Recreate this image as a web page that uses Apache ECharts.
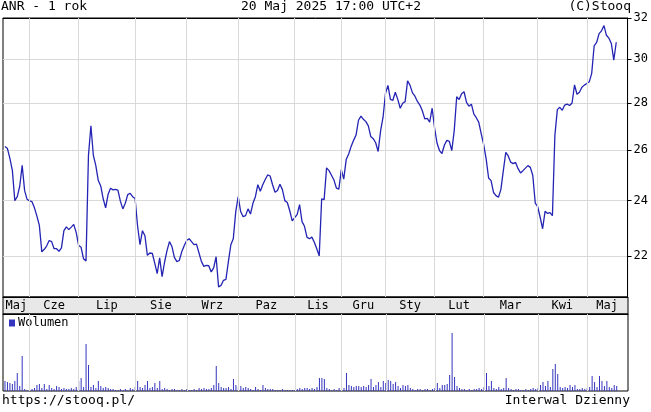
<!DOCTYPE html>
<html>
<head>
<meta charset="utf-8">
<script src="https://cdn.jsdelivr.net/npm/echarts@6/dist/echarts.min.js"></script>
<style>
html, body { margin: 0; padding: 0; background: #fff; }
#main { width: 651px; height: 412px; }
</style>
</head>
<body>
<div id="main"></div>
<script>
// ANR - 1 rok, kurs zamkniecia
const prices = [
  26.14, 26.05, 25.65, 25.17, 24.0, 24.15, 24.55, 25.37, 24.38, 24.05,
  23.99, 23.96, 23.73, 23.42, 23.08, 22.14, 22.23, 22.35, 22.54, 22.5,
  22.25, 22.25, 22.16, 22.28, 22.89, 23.03, 22.93, 23.02, 23.12, 22.83,
  22.36, 22.3, 21.9, 21.82, 25.77, 27.0, 25.77, 25.36, 24.77, 24.56,
  24.07, 23.73, 24.24, 24.47, 24.41, 24.43, 24.4, 23.98, 23.69, 23.9,
  24.23, 24.28, 24.15, 24.08, 23.07, 22.39, 22.89, 22.71, 22.02, 22.1,
  22.09, 21.75, 21.39, 21.93, 21.29, 21.78, 22.18, 22.5, 22.33, 21.95,
  21.8, 21.84, 22.14, 22.35, 22.54, 22.6, 22.5, 22.39, 22.41, 22.11,
  21.81, 21.64, 21.67, 21.66, 21.45, 21.59, 21.97, 20.95, 21.0, 21.17,
  21.2, 21.8, 22.39, 22.6, 23.59, 24.15, 23.59, 23.4, 23.44, 23.69,
  23.5, 23.9, 24.15, 24.61, 24.36, 24.61, 24.81, 24.99, 24.95, 24.61,
  24.32, 24.39, 24.63, 24.42, 24.0, 23.93, 23.62, 23.25, 23.37, 23.48,
  23.85, 23.22, 23.05, 22.66, 22.6, 22.66, 22.48, 22.25, 22.0, 24.07,
  24.04, 25.27, 25.16, 24.98, 24.79, 24.48, 24.44, 25.2, 24.83, 25.61,
  25.83, 26.14, 26.39, 26.61, 27.24, 27.42, 27.28, 27.18, 27.0, 26.55,
  26.46, 26.29, 25.93, 26.79, 27.37, 28.42, 28.78, 28.15, 28.11, 28.47,
  28.15, 27.76, 27.98, 28.05, 28.99, 28.78, 28.44, 28.29, 28.06, 27.9,
  27.65, 27.3, 27.32, 27.16, 27.76, 26.91, 26.27, 25.97, 25.85, 26.2,
  26.39, 26.35, 25.97, 26.8, 28.27, 28.14, 28.4, 28.49, 28.02, 27.85,
  27.94, 27.5, 27.35, 27.15, 26.66, 26.21, 25.63, 24.87, 24.77, 24.31,
  24.19, 24.13, 24.42, 25.16, 25.9, 25.75, 25.5, 25.44, 25.49, 25.24,
  25.07, 25.16, 25.26, 25.36, 25.29, 24.97, 23.91, 23.77, 23.38, 22.96,
  23.6, 23.52, 23.55, 23.44, 26.6, 27.7, 27.8, 27.67, 27.9, 27.94,
  27.88, 27.99, 28.8, 28.38, 28.47, 28.69, 28.79, 28.86, 28.94, 29.33,
  30.63, 30.79, 31.22, 31.36, 31.62, 31.14, 31.0, 30.74, 29.95, 30.8
]

// wolumen dzienny (tys. szt., szacunek z wysokosci slupkow)
const volumes = [
  250, 225, 200, 175, 250, 450, 125, 875, 50, 25,
  50, 50, 75, 150, 175, 75, 175, 50, 150, 75,
  50, 125, 100, 50, 75, 50, 50, 75, 50, 100,
  250, 325, 100, 1175, 650, 100, 150, 75, 250, 125,
  75, 100, 75, 50, 50, 25, 25, 50, 25, 50,
  25, 75, 50, 100, 250, 100, 75, 150, 250, 75,
  100, 200, 75, 250, 50, 75, 50, 25, 50, 50,
  25, 25, 50, 25, 50, 25, 25, 50, 25, 75,
  50, 75, 50, 50, 75, 150, 625, 200, 100, 75,
  75, 100, 50, 300, 150, 100, 125, 75, 100, 75,
  50, 25, 100, 50, 25, 150, 75, 50, 50, 50,
  25, 25, 25, 50, 25, 25, 25, 25, 25, 50,
  75, 50, 75, 75, 50, 75, 50, 100, 325, 325,
  300, 75, 50, 25, 50, 25, 75, 50, 75, 450,
  150, 125, 100, 125, 125, 100, 125, 100, 150, 300,
  100, 150, 225, 100, 250, 200, 275, 250, 175, 225,
  125, 75, 150, 125, 150, 75, 50, 25, 50, 50,
  25, 50, 50, 25, 50, 75, 200, 75, 150, 150,
  175, 400, 1450, 350, 125, 75, 50, 50, 25, 50,
  25, 50, 50, 75, 50, 100, 450, 125, 250, 75,
  50, 100, 50, 75, 325, 75, 50, 25, 50, 50,
  25, 25, 50, 25, 50, 75, 50, 75, 150, 225,
  125, 250, 100, 550, 675, 425, 100, 75, 100, 75,
  150, 100, 150, 50, 50, 75, 50, 75, 100, 375,
  225, 100, 375, 250, 125, 250, 100, 75, 150, 125
]

const monthNames = ['Maj', 'Cze', 'Lip', 'Sie', 'Wrz', 'Paz', 'Lis', 'Gru', 'Sty', 'Lut', 'Mar', 'Kwi', 'Maj']
// indeks pierwszej sesji kazdego miesiaca
const monthStarts = [10, 30, 53, 74, 95, 118, 137, 155, 175, 195, 217, 237]
const priceTicks = [22, 24, 26, 28, 30, 32]

const FONT = 'DejaVu Sans Mono'
const GRID_COLOR = '#d9d9d9'
const xMin = -0.81
const xMax = 253.6

// etykiety miesiecy na srodku miedzy granicami
const edges = [xMin, ...monthStarts, xMax]
const monthMids = edges.slice(1).map((e, k) => (edges[k] + e) / 2)

const priceData = prices.map((p, i) => [i, p])
const volumeData = volumes.map((v, i) => [i, v])

// pionowe linie siatki na granicach miesiecy
const monthLines = {
  silent: true,
  symbol: 'none',
  label: { show: false },
  lineStyle: { color: GRID_COLOR, type: 'solid', width: 1 },
  data: monthStarts.map(v => ({ xAxis: v }))
}

const chart = echarts.init(document.getElementById('main'))

const textStyle = { fontFamily: FONT, fontSize: 13, fontWeight: 'normal', color: '#000' }
const tickStyle = { inside: true, length: 4, customValues: monthStarts, lineStyle: { color: '#000' } }
const axisLine = { onZero: false, lineStyle: { color: '#000' } }

const option = {
  animation: false,
  backgroundColor: '#fff',
  title: [
    { text: 'ANR - 1 rok', left: 1, top: 0, padding: 0, textStyle },
    { text: '20 Maj 2025 17:00 UTC+2', left: 241, top: 0, padding: 0, textStyle },
    { text: '(C)Stooq', right: 20, top: 0, padding: 0, textStyle },
    { text: 'https://stooq.pl/', left: 2, top: 394, padding: 0, textStyle },
    { text: 'Interwal Dzienny', right: 21, top: 394, padding: 0, textStyle }
  ],
  legend: {
    data: ['Wolumen'],
    left: 9,
    top: 317,
    padding: 0,
    icon: 'rect',
    itemWidth: 6,
    itemHeight: 7,
    textStyle: { fontFamily: FONT, fontSize: 12, color: '#000', padding: [0, 0, 0, -2] }
  },
  graphic: [
    {
      // szary pasek z nazwami miesiecy
      type: 'rect',
      z: -1,
      shape: { x: 3, y: 297, width: 625, height: 17 },
      style: { fill: '#e8e8e8', stroke: '#000', lineWidth: 1 }
    }
  ],
  grid: [
    { left: 3, right: 23, top: 18, height: 279, show: true, borderColor: '#000', borderWidth: 1 },
    { left: 3, right: 23, top: 314, height: 77, show: true, borderColor: '#000', borderWidth: 1 }
  ],
  xAxis: [
    {
      type: 'value',
      gridIndex: 0,
      min: xMin,
      max: xMax,
      position: 'bottom',
      axisLine,
      axisTick: tickStyle,
      axisLabel: {
        customValues: monthMids,
        margin: 3,
        fontFamily: FONT,
        fontSize: 12,
        color: '#000',
        formatter: (v) => {
          const k = monthMids.findIndex(m => Math.abs(m - v) < 1e-6)
          return k >= 0 ? monthNames[k] : ''
        }
      },
      splitLine: { show: false }
    },
    {
      type: 'value',
      gridIndex: 0,
      min: xMin,
      max: xMax,
      position: 'top',
      axisLine,
      axisTick: tickStyle,
      axisLabel: { show: false },
      splitLine: { show: false }
    },
    {
      type: 'value',
      gridIndex: 1,
      min: xMin,
      max: xMax,
      position: 'top',
      axisLine,
      axisTick: tickStyle,
      axisLabel: { show: false },
      splitLine: { show: false }
    }
  ],
  yAxis: [
    {
      type: 'log',
      gridIndex: 0,
      min: 20.62,
      max: 32,
      position: 'right',
      axisLine: { show: true, onZero: false, lineStyle: { color: '#000' } },
      axisTick: { show: true, length: 4, customValues: priceTicks, lineStyle: { color: '#000' } },
      axisLabel: { customValues: priceTicks, margin: 6, fontFamily: FONT, fontSize: 12, color: '#000' },
      splitLine: { show: true, lineStyle: { color: GRID_COLOR, width: 1 } }
    },
    {
      type: 'value',
      gridIndex: 1,
      min: 0,
      max: 1925,
      show: false,
      splitLine: { show: false }
    }
  ],
  series: [
    {
      name: 'siatka',
      type: 'line',
      xAxisIndex: 0,
      yAxisIndex: 0,
      z: 1,
      data: [],
      markLine: monthLines
    },
    {
      name: 'siatka-wol',
      type: 'line',
      xAxisIndex: 2,
      yAxisIndex: 1,
      z: 1,
      data: [],
      markLine: monthLines
    },
    {
      name: 'ANR',
      type: 'line',
      xAxisIndex: 0,
      yAxisIndex: 0,
      z: 3,
      data: priceData,
      showSymbol: false,
      lineStyle: { color: '#2424b4', width: 1.3 },
      itemStyle: { color: '#2424b4' }
    },
    {
      name: 'Wolumen',
      type: 'bar',
      xAxisIndex: 2,
      yAxisIndex: 1,
      z: 3,
      data: volumeData,
      barWidth: 1,
      itemStyle: { color: '#3535bf' }
    }
  ]
}

chart.setOption(option)
</script>
</body>
</html>
